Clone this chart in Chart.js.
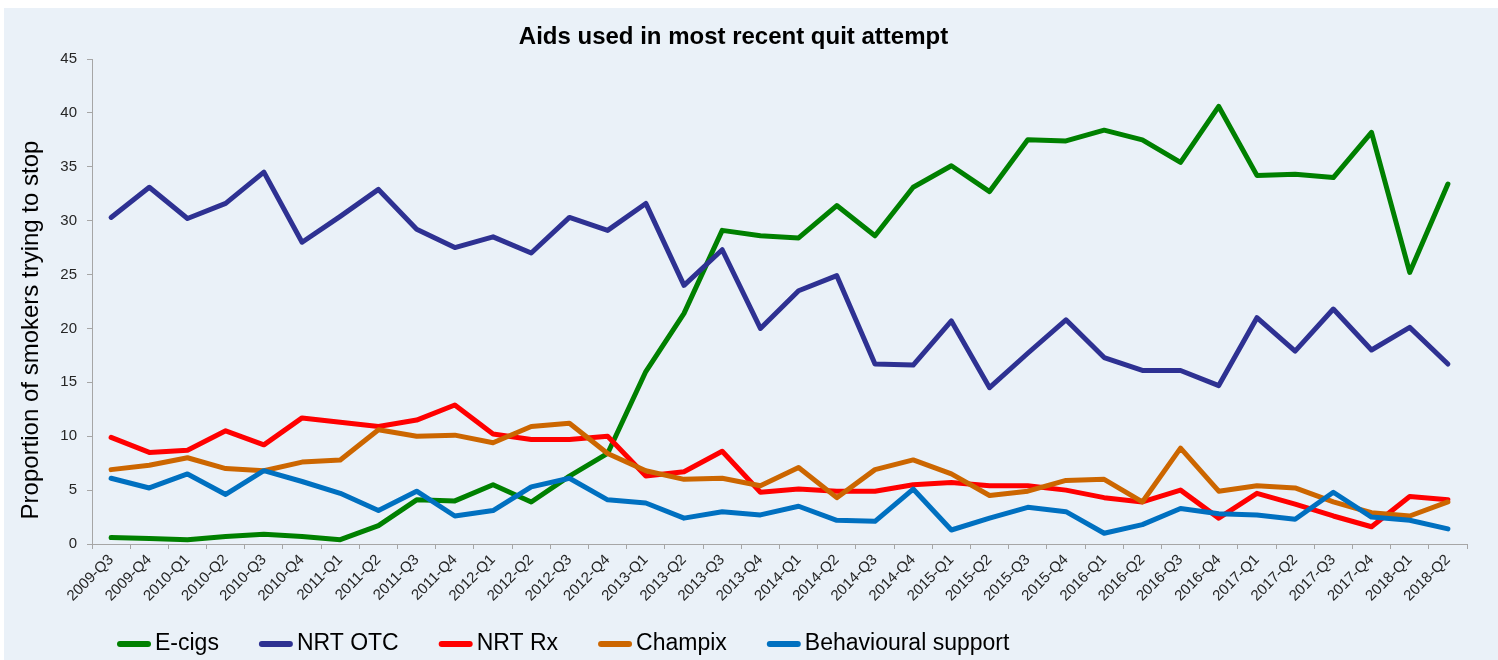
<!DOCTYPE html>
<html>
<head>
<meta charset="utf-8">
<script src="https://cdn.jsdelivr.net/npm/chart.js@4.4.1/dist/chart.umd.min.js"></script>
<style>
  html, body { margin: 0; padding: 0; background: #ffffff; }
  #wrap { position: absolute; left: 0; top: 0; width: 1498px; height: 660px; }
</style>
</head>
<body>
<div id="wrap"><canvas id="chart" width="1498" height="660"></canvas></div>
<script>
const chartTitle = 'Aids used in most recent quit attempt';
const yAxisTitle = 'Proportion of smokers trying to stop';

const categories = [
  '2009-Q3', '2009-Q4',
  '2010-Q1', '2010-Q2', '2010-Q3', '2010-Q4',
  '2011-Q1', '2011-Q2', '2011-Q3', '2011-Q4',
  '2012-Q1', '2012-Q2', '2012-Q3', '2012-Q4',
  '2013-Q1', '2013-Q2', '2013-Q3', '2013-Q4',
  '2014-Q1', '2014-Q2', '2014-Q3', '2014-Q4',
  '2015-Q1', '2015-Q2', '2015-Q3', '2015-Q4',
  '2016-Q1', '2016-Q2', '2016-Q3', '2016-Q4',
  '2017-Q1', '2017-Q2', '2017-Q3', '2017-Q4',
  '2018-Q1', '2018-Q2'
];

const ecigs = [0.6, 0.5, 0.4, 0.7, 0.9, 0.7, 0.4, 1.7, 4.1, 4.0, 5.5, 3.9, 6.3, 8.4, 16.0, 21.4, 29.1, 28.6,
  28.4, 31.4, 28.6, 33.1, 35.1, 32.7, 37.5, 37.4, 38.4, 37.5, 35.4, 40.6, 34.2, 34.3, 34.0, 38.2, 25.2, 33.4];
const nrtOtc = [30.3, 33.1, 30.2, 31.6, 34.5, 28.0, 30.4, 32.9, 29.2, 27.5, 28.5, 27.0, 30.3, 29.1, 31.6, 24.0, 27.3, 20.0,
  23.5, 24.9, 16.7, 16.6, 20.7, 14.5, 17.7, 20.8, 17.3, 16.1, 16.1, 14.7, 21.0, 17.9, 21.8, 18.0, 20.1, 16.7];
const nrtRx = [9.9, 8.5, 8.7, 10.5, 9.2, 11.7, 11.3, 10.9, 11.5, 12.9, 10.2, 9.7, 9.7, 10.0, 6.3, 6.7, 8.6, 4.8,
  5.1, 4.9, 4.9, 5.5, 5.7, 5.4, 5.4, 5.0, 4.3, 3.9, 5.0, 2.4, 4.7, 3.7, 2.6, 1.6, 4.4, 4.1];
const champix = [6.9, 7.3, 8.0, 7.0, 6.8, 7.6, 7.8, 10.6, 10.0, 10.1, 9.4, 10.9, 11.2, 8.4, 6.8, 6.0, 6.1, 5.4,
  7.1, 4.3, 6.9, 7.8, 6.5, 4.5, 4.9, 5.9, 6.0, 3.9, 8.9, 4.9, 5.4, 5.2, 3.9, 2.9, 2.6, 3.9];
const behavioural = [6.1, 5.2, 6.5, 4.6, 6.8, 5.8, 4.7, 3.1, 4.9, 2.6, 3.1, 5.3, 6.1, 4.1, 3.8, 2.4, 3.0, 2.7,
  3.5, 2.2, 2.1, 5.1, 1.3, 2.4, 3.4, 3.0, 1.0, 1.8, 3.3, 2.8, 2.7, 2.3, 4.8, 2.5, 2.2, 1.4];

const yTicks = [0, 5, 10, 15, 20, 25, 30, 35, 40, 45];

const FONT = '"Liberation Sans", Arial, Helvetica, sans-serif';
const AXIS_GREY = '#A6A6A6';
const TEXT_DARK = '#262626';

// Page background: thin white margin at the top/left, pale blue panel behind everything.
const panelBackground = {
  id: 'panelBackground',
  beforeDraw(chart) {
    const { ctx, width, height } = chart;
    ctx.save();
    ctx.fillStyle = '#ffffff';
    ctx.fillRect(0, 0, width, height);
    ctx.fillStyle = '#EAF1F8';
    ctx.fillRect(4, 8, width - 4, height - 8);
    ctx.restore();
  }
};

// Rotated y-axis caption.
const yCaption = {
  id: 'yCaption',
  afterDraw(chart) {
    const ctx = chart.ctx;
    ctx.save();
    ctx.translate(31, 330);
    ctx.rotate(-Math.PI / 2);
    ctx.font = '24px ' + FONT;
    ctx.fillStyle = '#000000';
    ctx.textAlign = 'center';
    ctx.textBaseline = 'middle';
    ctx.fillText(yAxisTitle, 0, 0);
    ctx.restore();
  }
};

// Legend row below the axis: short thick line swatch followed by the series name.
const lineLegend = {
  id: 'lineLegend',
  afterDraw(chart) {
    const ctx = chart.ctx;
    ctx.save();
    ctx.font = '23px ' + FONT;
    ctx.textBaseline = 'middle';
    ctx.textAlign = 'left';
    let x = 117;
    const y = 644;
    chart.data.datasets.forEach(ds => {
      ctx.strokeStyle = ds.borderColor;
      ctx.lineWidth = 6;
      ctx.lineCap = 'round';
      ctx.beginPath();
      ctx.moveTo(x + 3, y);
      ctx.lineTo(x + 31, y);
      ctx.stroke();
      x += 38;
      ctx.fillStyle = '#000000';
      ctx.fillText(ds.label, x, y);
      x += ctx.measureText(ds.label).width + 40;
    });
    ctx.restore();
  }
};

const series = [
  { label: 'E-cigs', data: ecigs, borderColor: '#008000', order: 5 },
  { label: 'NRT OTC', data: nrtOtc, borderColor: '#2E3192', order: 4 },
  { label: 'NRT Rx', data: nrtRx, borderColor: '#FF0000', order: 3 },
  { label: 'Champix', data: champix, borderColor: '#CC6600', order: 2 },
  { label: 'Behavioural support', data: behavioural, borderColor: '#0070C0', order: 1 }
];

new Chart(document.getElementById('chart'), {
  type: 'line',
  data: {
    labels: categories,
    datasets: series.map(s => ({
      label: s.label,
      data: s.data,
      borderColor: s.borderColor,
      backgroundColor: s.borderColor,
      order: s.order,
      fill: false
    }))
  },
  options: {
    responsive: false,
    animation: false,
    devicePixelRatio: 1,
    layout: { padding: { top: 10, left: 0, right: 31, bottom: 0 } },
    elements: {
      line: { tension: 0, borderWidth: 5, borderJoinStyle: 'round', borderCapStyle: 'round' },
      point: { radius: 0, hoverRadius: 0 }
    },
    plugins: {
      legend: { display: false },
      tooltip: { enabled: false },
      title: {
        display: true,
        text: chartTitle,
        color: '#000000',
        font: { family: FONT, size: 24, weight: 'bold' },
        padding: { top: 12.6, bottom: 7.6 }
      }
    },
    scales: {
      x: {
        offset: true,
        grid: { offset: true, drawOnChartArea: false, drawTicks: true, tickLength: 5, color: AXIS_GREY },
        border: { display: true, color: AXIS_GREY, width: 1 },
        ticks: {
          autoSkip: false,
          maxRotation: 45,
          minRotation: 45,
          padding: 2,
          color: TEXT_DARK,
          font: { family: FONT, size: 15 }
        },
        afterFit(scale) { scale.height = 116; }
      },
      y: {
        min: yTicks[0],
        max: yTicks[yTicks.length - 1],
        afterBuildTicks(scale) { scale.ticks = yTicks.map(v => ({ value: v })); },
        grid: { drawOnChartArea: false, drawTicks: true, tickLength: 5, color: AXIS_GREY },
        border: { display: true, color: AXIS_GREY, width: 1 },
        ticks: {
          padding: 10,
          color: TEXT_DARK,
          font: { family: FONT, size: 15 }
        },
        afterFit(scale) { scale.width = 92; }
      }
    }
  },
  plugins: [panelBackground, yCaption, lineLegend]
});
</script>
</body>
</html>
